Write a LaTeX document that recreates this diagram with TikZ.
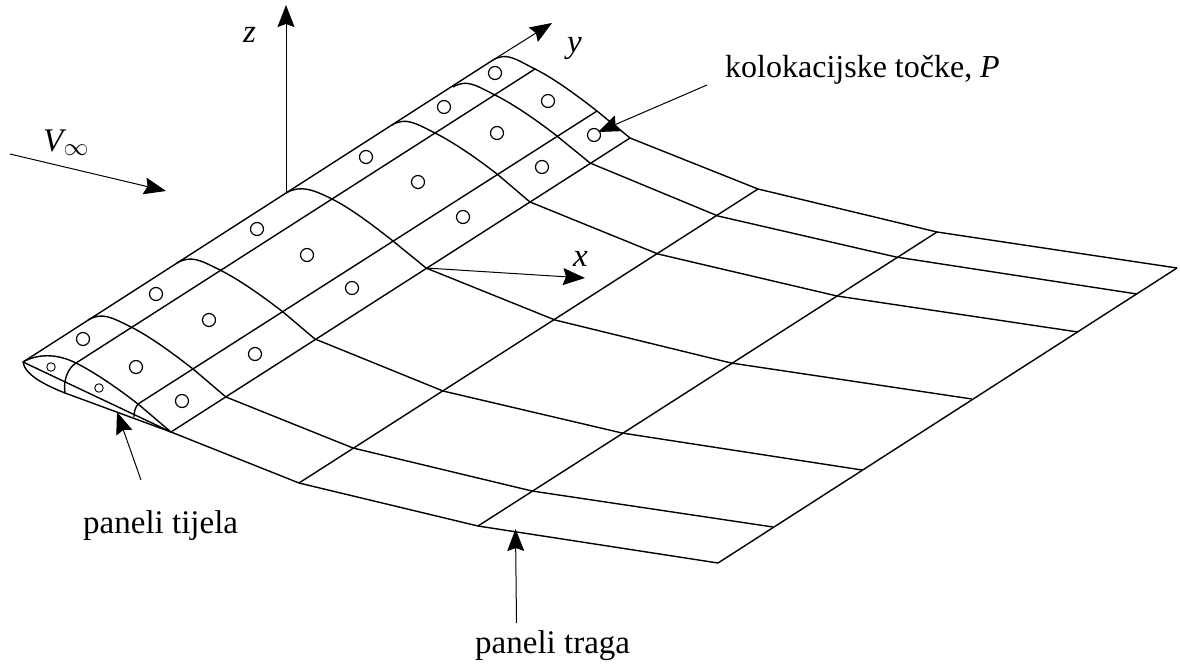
\documentclass[tikz,border=0pt]{standalone}
\usepackage{fontspec}
\setmainfont{Liberation Serif}
\usetikzlibrary{arrows.meta,calc}
\newcommand{\sect}[4]{\draw[mesh] (#1) .. controls ($(#1)+(14,-8)$) and ($(#2)-(20,10)$) .. (#2)
  .. controls ($(#2)+(20,10)$) and ($(#3)-(18,14)$) .. (#3)
  .. controls ($(#3)+(12,10)$) and ($(#4)-(12,10)$) .. (#4);}
\tikzset{x=1pt,y=-1pt,
  mesh/.style={line width=1.4pt,line join=round},
  lead/.style={line width=1pt,-{Stealth[length=22pt,width=17pt,inset=3pt]}},
  pt/.style={circle,draw,line width=1.2pt,minimum size=13pt,inner sep=0pt},
  spt/.style={circle,draw,line width=0.9pt,minimum size=8.5pt,inner sep=0pt},
  lab/.style={font=\fontsize{32}{36}\selectfont,inner sep=0pt,anchor=base west},
  labbig/.style={lab,font=\fontsize{33}{36}\selectfont}}
\begin{document}
\begin{tikzpicture}
\useasboundingbox (0,0) rectangle (1180,664);
% section starts
\coordinate (a0) at (23,362);\coordinate (a1) at (88,320);\coordinate (a2) at (177,263);\coordinate (a3) at (286,193);\coordinate (a4) at (392,125);\coordinate (a5) at (453,87);\coordinate (a6) at (493,60);
\coordinate (b0) at (76,363);\coordinate (b1) at (131,327);\coordinate (b2) at (220,270);\coordinate (b3) at (332,199);\coordinate (b4) at (435,133);\coordinate (b5) at (495,95);\coordinate (b6) at (535,69);
\coordinate (c0) at (138,404);\coordinate (c1) at (193,369);\coordinate (c2) at (283,312);\coordinate (c3) at (393,241);\coordinate (c4) at (497,174);\coordinate (c5) at (557,136);\coordinate (c6) at (597,111);
\coordinate (d0) at (171,432);\coordinate (d1) at (226,397);\coordinate (d2) at (315,339);\coordinate (d3) at (426,268);\coordinate (d4) at (530,202);\coordinate (d5) at (590,163);\coordinate (d6) at (630,138);
\coordinate (e0) at (299,483);\coordinate (e1) at (353,448);\coordinate (e2) at (443,391);\coordinate (e3) at (555,320);\coordinate (e4) at (658,254);\coordinate (e5) at (718,216);\coordinate (e6) at (758,189);
\coordinate (f0) at (478,526);\coordinate (f1) at (532,491);\coordinate (f2) at (622,433);\coordinate (f3) at (731,363);\coordinate (f4) at (837,296);\coordinate (f5) at (896,257);\coordinate (f6) at (937,232);
\coordinate (g0) at (718,563);\coordinate (g1) at (773,527);\coordinate (g2) at (862,470);\coordinate (g3) at (972,399);\coordinate (g4) at (1078,332);\coordinate (g5) at (1137,294);\coordinate (g6) at (1177,268);
% spanwise
\draw[mesh] (a0)--(a6);
\draw[mesh] (b0)--(b6);
\draw[mesh] (c0)--(c6);
\draw[mesh] (d0)--(d6);
\draw[mesh] (e0)--(e6);
\draw[mesh] (f0)--(f6);
\draw[mesh] (g0)--(g6);
% airfoil sections
\sect{a0}{b0}{c0}{d0}
\sect{a1}{b1}{c1}{d1}
\sect{a2}{b2}{c2}{d2}
\sect{a3}{b3}{c3}{d3}
\sect{a4}{b4}{c4}{d4}
\sect{a5}{b5}{c5}{d5}
\sect{a6}{b6}{c6}{d6}
% wake
\foreach \i in {0,...,6}{\draw[mesh] (d\i)--(e\i)--(f\i)--(g\i);}
% tip lower surface
\draw[mesh] (a0)--(d0);
\draw[mesh] (a0) .. controls (25,375) and (45,385) .. (65,393) -- (d0);
\draw[mesh] (b0) .. controls (68,368) and (63,380) .. (65,393);
\draw[mesh] (c0) .. controls (135,408) and (134,412) .. (134,417);
% collocation points
\foreach \n/\p in {p1/{83,339},p2/{156,294},p3/{257,229},p4/{366,157},p5/{444,107},p6/{495,73},
  q1/{136,367},q2/{209,320},q3/{307,255},q4/{418,182},q5/{497,133},q6/{548,101},
  r1/{182,401},r2/{255,354},r3/{352,288},r4/{463,217},r5/{542,167},r6/{594,135}}
  {\node[pt] (\n) at (\p) {};}
\node[spt] (s1) at (51,367) {};
\node[spt] (s2) at (99,388) {};
% axes
\coordinate (ztip) at (286,5);\coordinate (ytip) at (552,23);\coordinate (xtip) at (585,278);
\draw[lead] (a3)--(ztip);
\draw[lead] (a6)--(ytip);
\draw[lead] (d3)--(xtip);
\coordinate (v0) at (10,154);\coordinate (v1) at (166,191);
\draw[lead] (v0)--(v1);
% labels
\node[labbig] (lz) at (243,42) {\textit{z}};
\node[labbig] (ly) at (567,52) {\textit{y}};
\node[labbig] (lx) at (573,266) {\textit{x}};
\node[labbig] (lv) at (43,151) {\textit{V}\hspace{-3pt}\raisebox{-4pt}{\fontsize{25}{25}\selectfont$\infty$}};
\node[lab] (lk) at (725,77) {kolokacijske točke, \textit{P}};
\node[labbig] (lt) at (83,533) {paneli tijela};
\node[labbig] (lw) at (475,653) {paneli traga};
\coordinate (k0) at (707,85);\coordinate (k1) at (598,132);
\coordinate (t0) at (141,480);\coordinate (t1) at (117,412);
\coordinate (w0) at (516.5,623);\coordinate (w1) at (515.5,529);
\draw[lead] (k0)--(k1);
\draw[lead] (t0)--(t1);
\draw[lead] (w0)--(w1);
\end{tikzpicture}
\end{document}
